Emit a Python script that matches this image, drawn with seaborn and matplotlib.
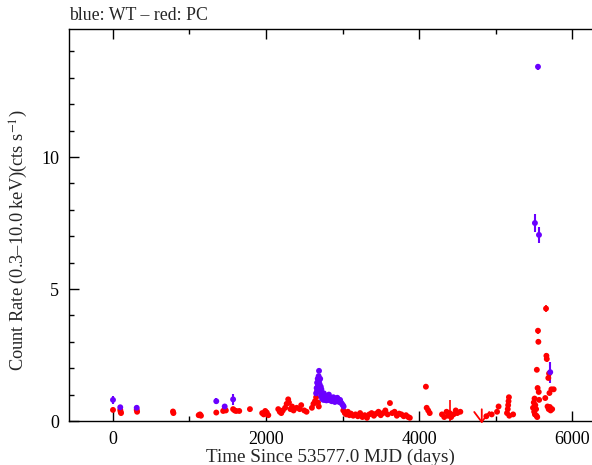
import numpy as np
import pandas as pd
import seaborn as sns
import matplotlib.pyplot as plt
from matplotlib.ticker import MultipleLocator

# WT mode points (blue)
wt_time = [0, 95, 310, 1350, 1460, 1570,
           2655, 2662, 2668, 2672, 2676, 2680, 2684, 2688, 2693, 2697,
           2700, 2704, 2708, 2712, 2716, 2720, 2724, 2728, 2733, 2738,
           2744, 2750, 2756, 2762, 2768, 2775, 2782, 2790, 2798, 2806,
           2814, 2822, 2830, 2840, 2850, 2860, 2870, 2880, 2890, 2900,
           2910, 2920, 2932, 2944, 2956, 2968, 2980, 2992, 3005, 3015,
           5515, 5555, 5568, 5715]
wt_rate = [0.80, 0.52, 0.50, 0.75, 0.55, 0.82,
           1.05, 1.25, 1.45, 1.15, 1.60, 1.35, 1.50, 1.70, 1.90, 1.55,
           1.40, 1.25, 1.60, 1.10, 1.30, 0.95, 1.20, 1.05, 0.85, 1.00,
           0.90, 0.80, 1.05, 0.85, 0.95, 0.80, 0.90, 0.78, 0.85, 0.95,
           0.80, 1.00, 0.88, 0.78, 0.85, 0.75, 0.82, 0.90, 0.78, 0.72,
           0.85, 0.80, 0.88, 0.78, 0.72, 0.80, 0.70, 0.65, 0.60, 0.55,
           7.50, 13.42, 7.05, 1.85]
wt_err = [0.15, 0.10, 0.10, 0.12, 0.08, 0.20,
          0.08, 0.08, 0.08, 0.08, 0.08, 0.08, 0.08, 0.08, 0.08, 0.08,
          0.08, 0.08, 0.08, 0.08, 0.08, 0.07, 0.07, 0.07, 0.07, 0.07,
          0.07, 0.07, 0.07, 0.07, 0.07, 0.07, 0.07, 0.07, 0.07, 0.07,
          0.07, 0.07, 0.07, 0.07, 0.07, 0.07, 0.07, 0.07, 0.07, 0.07,
          0.07, 0.07, 0.07, 0.07, 0.07, 0.07, 0.07, 0.07, 0.07, 0.07,
          0.35, 0.12, 0.30, 0.40]

# PC mode points (red)
pc_time = [0, 95, 100, 105, 310, 315,
           784, 790, 1120, 1137, 1150,
           1350, 1440, 1460, 1475, 1570, 1590, 1610, 1650, 1790,
           1950, 1970, 1990, 2010, 2030,
           2160, 2180, 2200, 2220, 2250, 2270, 2290, 2300, 2320, 2340,
           2360, 2400, 2440, 2460, 2500, 2530,
           2600, 2620, 2640, 2655, 2665, 2672, 2680, 2690,
           3010, 3030, 3050, 3070, 3090, 3110, 3140, 3170, 3200, 3230,
           3260, 3290, 3320, 3350, 3380, 3410, 3440, 3470, 3500, 3530,
           3560, 3590, 3620, 3650, 3680, 3710, 3740, 3770, 3800, 3830,
           3860, 3880,
           4090, 4100, 4120, 4140,
           4300, 4330, 4360, 4380, 4400, 4420, 4450, 4480, 4500, 4540,
           4880, 4950,
           5020, 5040, 5150, 5160, 5165, 5170, 5175, 5180, 5230,
           5490, 5500, 5505, 5510, 5515, 5520, 5530, 5535, 5540, 5545,
           5550, 5555, 5560, 5565, 5570,
           5650, 5660, 5665, 5670, 5680, 5690, 5695, 5700, 5705, 5710,
           5720, 5730, 5740, 5760]
pc_rate = [0.42, 0.42, 0.35, 0.30, 0.42, 0.35,
           0.36, 0.30, 0.22, 0.25, 0.20,
           0.32, 0.38, 0.45, 0.40, 0.45, 0.40, 0.38, 0.38, 0.45,
           0.30, 0.25, 0.38, 0.32, 0.22,
           0.45, 0.35, 0.30, 0.40, 0.50, 0.65, 0.82, 0.70, 0.45, 0.55,
           0.40, 0.50, 0.45, 0.60, 0.40, 0.35,
           0.50, 0.65, 0.75, 0.90, 1.10, 1.25, 0.70, 0.55,
           0.40, 0.30, 0.25, 0.35, 0.22, 0.28, 0.20, 0.25, 0.18, 0.30,
           0.15, 0.22, 0.12, 0.25, 0.30, 0.20, 0.28, 0.35, 0.22, 0.30,
           0.40, 0.25, 0.68, 0.30, 0.35, 0.20, 0.28, 0.25, 0.18, 0.22,
           0.15, 0.12,
           1.30, 0.50, 0.40, 0.30,
           0.25, 0.15, 0.35, 0.20, 0.30, 0.15, 0.25, 0.40, 0.30, 0.35,
           0.18, 0.25,
           0.35, 0.55, 0.30, 0.45, 0.60, 0.75, 0.90, 0.20, 0.25,
           0.50, 0.70, 0.35, 0.85, 0.25, 0.60, 0.45, 0.20, 1.94, 0.15,
           1.25, 3.42, 3.00, 1.10, 0.80,
           0.87, 4.26, 2.47, 2.35, 0.55, 1.63, 0.45, 1.80, 1.06, 0.53,
           0.40, 1.20, 0.45, 1.20]
pc_err = [0.04, 0.04, 0.04, 0.04, 0.04, 0.04,
          0.04, 0.04, 0.03, 0.03, 0.03,
          0.04, 0.04, 0.04, 0.04, 0.04, 0.04, 0.04, 0.04, 0.04,
          0.04, 0.04, 0.04, 0.04, 0.04,
          0.05, 0.05, 0.05, 0.05, 0.05, 0.06, 0.07, 0.06, 0.05, 0.05,
          0.05, 0.05, 0.05, 0.05, 0.05, 0.05,
          0.05, 0.06, 0.06, 0.07, 0.08, 0.08, 0.06, 0.05,
          0.04, 0.04, 0.04, 0.04, 0.04, 0.04, 0.04, 0.04, 0.04, 0.04,
          0.04, 0.04, 0.04, 0.04, 0.04, 0.04, 0.04, 0.04, 0.04, 0.04,
          0.04, 0.04, 0.06, 0.04, 0.04, 0.04, 0.04, 0.04, 0.04, 0.04,
          0.04, 0.04,
          0.08, 0.06, 0.06, 0.05,
          0.06, 0.06, 0.06, 0.06, 0.50, 0.06, 0.06, 0.06, 0.06, 0.06,
          0.06, 0.06,
          0.06, 0.06, 0.06, 0.06, 0.06, 0.06, 0.06, 0.06, 0.06,
          0.06, 0.06, 0.06, 0.06, 0.06, 0.06, 0.06, 0.06, 0.08, 0.06,
          0.08, 0.12, 0.10, 0.08, 0.06,
          0.08, 0.12, 0.10, 0.10, 0.06, 0.08, 0.06, 0.08, 0.08, 0.06,
          0.06, 0.08, 0.06, 0.08]

# PC upper limits
ul_time = [4820]
ul_rate = [0.55]

wt = pd.DataFrame({"time": wt_time, "rate": wt_rate, "err": wt_err})
pc = pd.DataFrame({"time": pc_time, "rate": pc_rate, "err": pc_err})

blue = "#6a00ff"
red = "#ff0000"

sns.set_theme(style="ticks")
plt.rcParams["font.family"] = ["Liberation Serif", "DejaVu Serif"]
plt.rcParams["mathtext.fontset"] = "stix"

fig = plt.figure(figsize=(5.92, 4.65), dpi=100)
ax = fig.add_axes([69 / 592, 44 / 465, 1 - 69 / 592, 392 / 465])

# red first, blue on top
ax.errorbar(pc["time"], pc["rate"], yerr=pc["err"], fmt="none", ecolor=red, elinewidth=1.2)
sns.scatterplot(data=pc, x="time", y="rate", color=red, s=18, edgecolor="none", ax=ax, zorder=3)
ax.errorbar(wt["time"], wt["rate"], yerr=wt["err"], xerr=12, fmt="none", ecolor=blue, elinewidth=1.5)
sns.scatterplot(data=wt, x="time", y="rate", color=blue, s=18, edgecolor="none", ax=ax, zorder=4)

for t, r in zip(ul_time, ul_rate):
    ax.annotate("", xy=(t, -0.2), xytext=(t, r), annotation_clip=False,
                arrowprops=dict(arrowstyle="->,head_length=0.6,head_width=0.45", color=red, lw=1.3))

ax.set_xlim(-575, 6261)
ax.set_ylim(0, 14.85)
ax.xaxis.set_major_locator(MultipleLocator(2000))
ax.xaxis.set_minor_locator(MultipleLocator(1000))
ax.yaxis.set_major_locator(MultipleLocator(5))
ax.yaxis.set_minor_locator(MultipleLocator(1))
ax.tick_params(which="both", direction="in", top=True, right=False, width=1, labelsize=13, colors="black")
ax.tick_params(which="major", length=7, pad=7)
ax.tick_params(which="minor", length=3.5)
ax.spines["right"].set_visible(False)
for s in ["left", "bottom", "top"]:
    ax.spines[s].set_linewidth(1)
    ax.spines[s].set_color("black")

ax.set_xlabel("Time Since 53577.0 MJD (days)", fontsize=13.8, labelpad=1)
ax.set_ylabel("Count Rate (0.3–10.0 keV)(cts s$^{-1}$)", fontsize=13.2)
ax.yaxis.set_label_coords(-0.074, 0.46)
fig.text(69 / 592, 1 - 15 / 465, "blue: WT – red: PC", ha="left", va="center", fontsize=12.8)

fig.savefig("out.png", dpi=100)
